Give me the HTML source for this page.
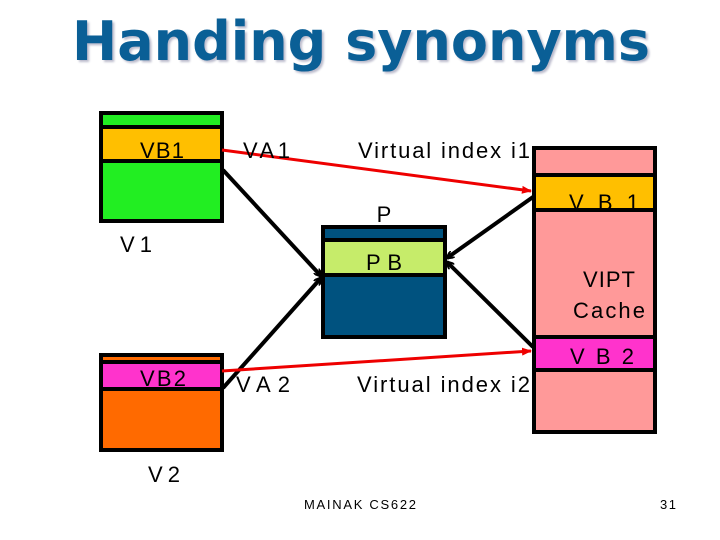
<!DOCTYPE html>
<html><head><style>
body{margin:0;width:720px;height:540px;background:#fff;overflow:hidden;font-family:"Liberation Sans",sans-serif}
.t{position:absolute;white-space:nowrap}
</style></head><body>
<div class="t" style="left:72px;top:10px;font-size:54px;font-weight:bold;color:#0a5f96;text-shadow:2px 2px 2px #bbc;font-family:'DejaVu Sans',sans-serif">Handing synonyms</div>
<svg width="720" height="540" style="position:absolute;left:0;top:0" font-family="Liberation Sans, sans-serif">
<defs>
<marker id="ab" markerWidth="8" markerHeight="8" refX="7" refY="4" orient="auto" markerUnits="userSpaceOnUse" viewBox="0 0 8 8"><path d="M0,0 L8,4 L0,8" fill="none" stroke="#000" stroke-width="2"/></marker>
<marker id="ar" markerWidth="10" markerHeight="10" refX="9" refY="5" orient="auto" markerUnits="userSpaceOnUse"><path d="M0,1 L10,5 L0,9z" fill="#e00"/></marker>
</defs>
<rect x="101" y="113" width="121" height="108" fill="#22ee22" stroke="#000" stroke-width="4"/>
<rect x="101" y="127" width="121" height="34" fill="#ffbf00" stroke="#000" stroke-width="4"/>
<rect x="101" y="355" width="121" height="95" fill="#ff6a00" stroke="#000" stroke-width="4"/>
<rect x="101" y="362" width="121" height="27" fill="#ff33cc" stroke="#000" stroke-width="4"/>
<rect x="323" y="227" width="122" height="110" fill="#00527f" stroke="#000" stroke-width="4"/>
<rect x="323" y="240" width="122" height="35" fill="#c6ec6a" stroke="#000" stroke-width="4"/>
<rect x="534" y="148" width="121" height="284" fill="#ff9999" stroke="#000" stroke-width="4"/>
<rect x="534" y="175" width="121" height="35" fill="#ffbf00" stroke="#000" stroke-width="4"/>
<rect x="534" y="337" width="121" height="33" fill="#ff33cc" stroke="#000" stroke-width="4"/>
<g stroke="#000" stroke-width="4" fill="none">
<line x1="223" y1="170" x2="321" y2="276" marker-end="url(#ab)"/>
<line x1="223" y1="388" x2="321" y2="278" marker-end="url(#ab)"/>
<line x1="533" y1="197" x2="447" y2="258" marker-end="url(#ab)"/>
<line x1="533" y1="347" x2="447" y2="262" marker-end="url(#ab)"/>
</g>
<line x1="222" y1="150" x2="531" y2="191" stroke="#e00" stroke-width="3" marker-end="url(#ar)"/>
<line x1="222" y1="371" x2="531" y2="351" stroke="#e00" stroke-width="3" marker-end="url(#ar)"/>
<g font-size="22" fill="#000">
<text x="140" y="158" textLength="44">VB1</text>
<text x="243" y="158" textLength="47">VA1</text>
<text x="358" y="158" textLength="172">Virtual index i1</text>
<text x="120" y="252" textLength="32">V1</text>
<text x="384" y="222" text-anchor="middle">P</text>
<text x="366" y="270" textLength="36">PB</text>
<text x="569" y="210" textLength="70">VB1</text>
<text x="583" y="287" textLength="52">VIPT</text>
<text x="573" y="318" textLength="72">Cache</text>
<text x="570" y="364" textLength="64">VB2</text>
<text x="140" y="386" textLength="46">VB2</text>
<text x="236" y="392" textLength="54">VA2</text>
<text x="357" y="392" textLength="173">Virtual index i2</text>
<text x="148" y="482" textLength="32">V2</text>
</g>
<text x="304" y="509" font-size="13" textLength="112">MAINAK  CS622</text>
<text x="660" y="509" font-size="13" textLength="16">31</text>
</svg>
</body></html>
